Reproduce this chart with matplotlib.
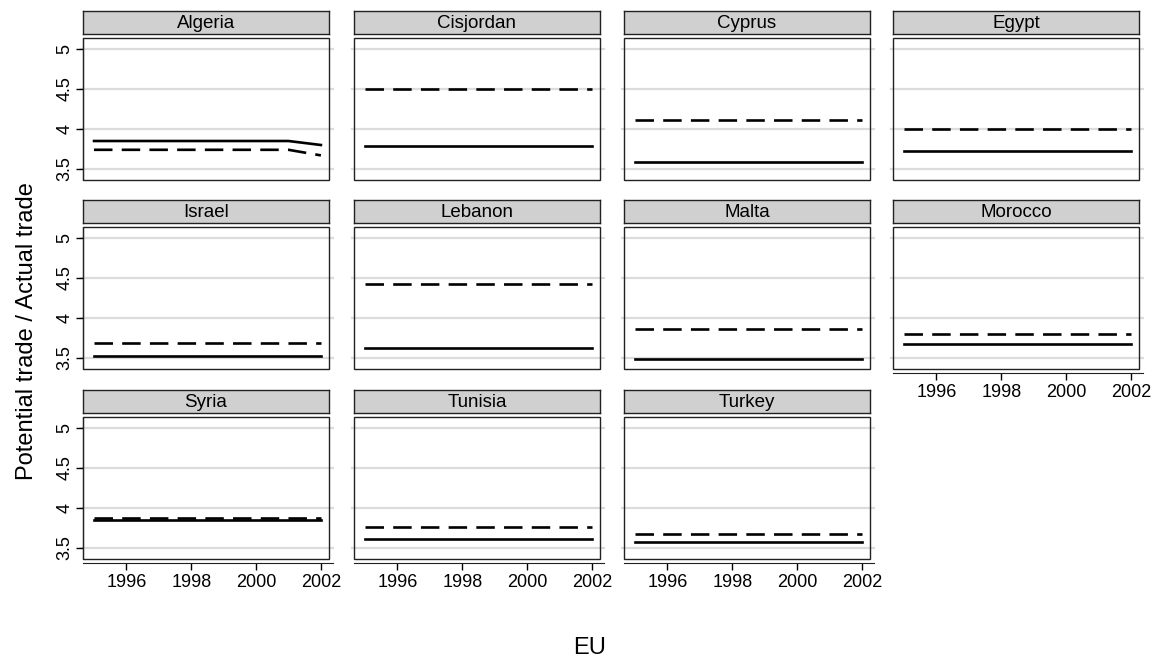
import matplotlib.pyplot as plt
from matplotlib.patches import Rectangle

plt.rcParams['font.family'] = ['Liberation Sans', 'DejaVu Sans']

# years on the x axis
years = [1995, 1996, 1997, 1998, 1999, 2000, 2001, 2002]

countries = ['Algeria', 'Cisjordan', 'Cyprus', 'Egypt',
             'Israel', 'Lebanon', 'Malta', 'Morocco',
             'Syria', 'Tunisia', 'Turkey']

# solid line
solid = {
    'Algeria':   [3.85, 3.85, 3.85, 3.85, 3.85, 3.85, 3.85, 3.80],
    'Cisjordan': [3.79, 3.79, 3.79, 3.79, 3.79, 3.79, 3.79, 3.79],
    'Cyprus':    [3.59, 3.59, 3.59, 3.59, 3.59, 3.59, 3.59, 3.59],
    'Egypt':     [3.73, 3.73, 3.73, 3.73, 3.73, 3.73, 3.73, 3.73],
    'Israel':    [3.52, 3.52, 3.52, 3.52, 3.52, 3.52, 3.52, 3.52],
    'Lebanon':   [3.63, 3.63, 3.63, 3.63, 3.63, 3.63, 3.63, 3.63],
    'Malta':     [3.49, 3.49, 3.49, 3.49, 3.49, 3.49, 3.49, 3.49],
    'Morocco':   [3.67, 3.67, 3.67, 3.67, 3.67, 3.67, 3.67, 3.67],
    'Syria':     [3.85, 3.85, 3.85, 3.85, 3.85, 3.85, 3.85, 3.85],
    'Tunisia':   [3.61, 3.61, 3.61, 3.61, 3.61, 3.61, 3.61, 3.61],
    'Turkey':    [3.57, 3.57, 3.57, 3.57, 3.57, 3.57, 3.57, 3.57],
}

# dashed line
dashed = {
    'Algeria':   [3.74, 3.74, 3.74, 3.74, 3.74, 3.74, 3.74, 3.67],
    'Cisjordan': [4.50, 4.50, 4.50, 4.50, 4.50, 4.50, 4.50, 4.50],
    'Cyprus':    [4.11, 4.11, 4.11, 4.11, 4.11, 4.11, 4.11, 4.11],
    'Egypt':     [4.00, 4.00, 4.00, 4.00, 4.00, 4.00, 4.00, 4.00],
    'Israel':    [3.69, 3.69, 3.69, 3.69, 3.69, 3.69, 3.69, 3.69],
    'Lebanon':   [4.42, 4.42, 4.42, 4.42, 4.42, 4.42, 4.42, 4.42],
    'Malta':     [3.86, 3.86, 3.86, 3.86, 3.86, 3.86, 3.86, 3.86],
    'Morocco':   [3.80, 3.80, 3.80, 3.80, 3.80, 3.80, 3.80, 3.80],
    'Syria':     [3.87, 3.87, 3.87, 3.87, 3.87, 3.87, 3.87, 3.87],
    'Tunisia':   [3.76, 3.76, 3.76, 3.76, 3.76, 3.76, 3.76, 3.76],
    'Turkey':    [3.68, 3.68, 3.68, 3.68, 3.68, 3.68, 3.68, 3.68],
}

yticks = [3.5, 4, 4.5, 5]
ytick_labels = ['3.5', '4', '4.5', '5']
xticks = [1996, 1998, 2000, 2002]

W, H = 1156, 667
fig = plt.figure(figsize=(W / 100, H / 100), dpi=100)


def px_rect(l, t, r, b):
    return [l / W, 1 - b / H, (r - l) / W, (b - t) / H]


col_left = [83, 354, 624, 893]
row_top = [38, 227, 417]
pw, ph = 246, 142

for i, c in enumerate(countries):
    row, col = i // 4, i % 4
    l, t = col_left[col], row_top[row]

    # header strip
    hax = fig.add_axes(px_rect(l, t - 27, l + pw, t - 4))
    hax.set_xticks([])
    hax.set_yticks([])
    hax.set_facecolor('#d0d0d0')
    for s in hax.spines.values():
        s.set_color('#222222')
        s.set_linewidth(1.0)
    hax.text(0.5, 0.47, c, ha='center', va='center', fontsize=13.5,
             transform=hax.transAxes)

    ax = fig.add_axes(px_rect(l, t, l + pw, t + ph))
    ax.set_xlim(1994.66, 2002.25)
    ax.set_ylim(3.3625, 5.1375)
    for v in yticks:
        ax.axhline(v, xmin=-0.01, xmax=1.015, color='#dcdcdc', lw=1.6,
                   clip_on=False, zorder=0)
    ax.plot(years, solid[c], color='black', lw=1.9, zorder=2)
    ax.plot(years, dashed[c], color='black', lw=1.9, ls=(0, (7, 3.5)), zorder=2)
    ax.add_patch(Rectangle((0, 0), 1, 1, transform=ax.transAxes, fill=False,
                           ec='#222222', lw=1.0, zorder=3, clip_on=False))
    for s in ax.spines.values():
        s.set_visible(False)

    if col == 0:
        ax.spines['left'].set_visible(True)
        ax.spines['left'].set_color('#222222')
        ax.set_yticks(yticks)
        ax.set_yticklabels(ytick_labels, rotation=90, va='center')
        ax.tick_params(axis='y', length=5, width=1, labelsize=13, pad=2)
    else:
        ax.tick_params(axis='y', left=False, labelleft=False)

    if row == 2 or c == 'Morocco':
        ax.spines['bottom'].set_visible(True)
        ax.spines['bottom'].set_color('#222222')
        ax.spines['bottom'].set_position(('outward', 3))
        ax.spines['bottom'].set_bounds(1994.66, 2002.38)
        ax.set_xticks(xticks)
        ax.tick_params(axis='x', length=5, width=1, labelsize=13, pad=3)
    else:
        ax.tick_params(axis='x', bottom=False, labelbottom=False)

fig.text(27 / W, 1 - 331 / H, 'Potential trade / Actual trade', rotation=90,
         fontsize=17, ha='center', va='center')
fig.text(590 / W, 1 - 648 / H, 'EU', fontsize=17, ha='center', va='center')

fig.savefig('out.png', dpi=100)
